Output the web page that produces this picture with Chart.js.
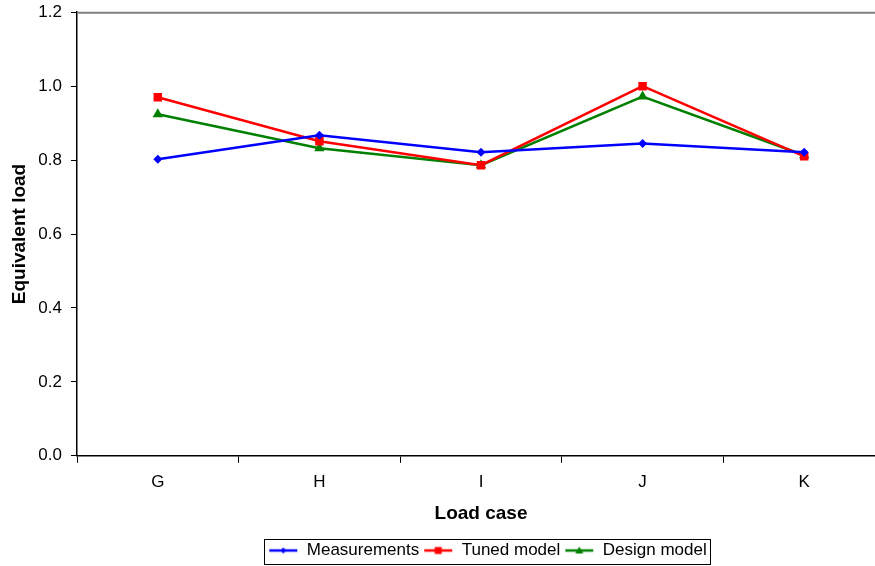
<!DOCTYPE html>
<html>
<head>
<meta charset="utf-8">
<script src="https://cdn.jsdelivr.net/npm/chart.js@4/dist/chart.umd.min.js"></script>
<style>
  html, body { margin: 0; padding: 0; background: #fff; overflow: hidden; }
  #wrap { width: 900px; height: 575px; position: relative; margin-top: -7px; }
</style>
</head>
<body>
<div id="wrap"><canvas id="loadChart"></canvas></div>
<script>
// load cases and equivalent loads per series
const loadCases = ['G', 'H', 'I', 'J', 'K'];
const measurements = [0.802, 0.867, 0.821, 0.845, 0.821];
const tunedModel = [0.970, 0.851, 0.786, 1.000, 0.810];
const designModel = [0.924, 0.832, 0.786, 0.972, 0.813];
const yTicks = [0, 0.2, 0.4, 0.6, 0.8, 1.0, 1.2];

const FONT = "'Liberation Sans', Arial, sans-serif";
const LEGEND_SHIFT_X = 45;
const LEGEND_SHIFT_Y = 1;

// small line+marker swatch for the legend
function swatch(color, style) {
    const c = document.createElement('canvas');
    c.width = 30; c.height = 12;
    const g = c.getContext('2d');
    g.strokeStyle = color; g.fillStyle = color; g.lineWidth = 2.5;
    g.beginPath(); g.moveTo(1, 6); g.lineTo(29, 6); g.stroke();
    g.beginPath();
    if (style === 'diamond') {
        g.moveTo(15, 3); g.lineTo(18, 6); g.lineTo(15, 9); g.lineTo(12, 6);
    } else if (style === 'square') {
        g.rect(11.5, 2.5, 7, 7);
    } else {
        g.moveTo(15, 2); g.lineTo(19, 9); g.lineTo(11, 9);
    }
    g.closePath(); g.fill();
    return c;
}

const series = [
    { label: 'Measurements', data: measurements, color: '#0000FF', point: 'rectRot', radius: 4.5, sw: 'diamond' },
    { label: 'Tuned model', data: tunedModel, color: '#FF0000', point: 'rect', radius: 6, sw: 'square' },
    { label: 'Design model', data: designModel, color: '#008000', point: 'triangle', radius: 6, sw: 'triangle' }
];

// gray top edge of the plot + box round the legend
const framePlugin = {
    id: 'frame',
    afterLayout(chart) {
        // legend sits under the plot, not under the whole canvas
        const lg = chart.legend;
        lg.left += LEGEND_SHIFT_X;
        lg.right += LEGEND_SHIFT_X;
        lg.top += LEGEND_SHIFT_Y;
        lg.bottom += LEGEND_SHIFT_Y;
        (lg.legendHitBoxes || []).forEach(b => { b.left += LEGEND_SHIFT_X; b.top += LEGEND_SHIFT_Y; });
    },
    afterDraw(chart) {
        const ctx = chart.ctx;
        const a = chart.chartArea;
        ctx.save();
        ctx.strokeStyle = '#808080';
        ctx.lineWidth = 2;
        ctx.beginPath();
        ctx.moveTo(a.left, a.top + 0.5);
        ctx.lineTo(a.right, a.top + 0.5);
        ctx.stroke();

        const boxes = chart.legend.legendHitBoxes;
        if (boxes && boxes.length) {
            const first = boxes[0];
            const last = boxes[boxes.length - 1];
            const x0 = first.left - 4;
            const x1 = last.left + last.width + 4;
            const y0 = first.top - 4;
            const y1 = first.top + first.height + 4;
            ctx.strokeStyle = '#000';
            ctx.lineWidth = 1;
            ctx.strokeRect(Math.round(x0) + 0.5, Math.round(y0) + 0.5, Math.round(x1 - x0), Math.round(y1 - y0));
        }
        ctx.restore();
    }
};

new Chart(document.getElementById('loadChart'), {
    type: 'line',
    data: {
        labels: loadCases,
        datasets: series.map(s => ({
            label: s.label,
            data: s.data,
            borderColor: s.color,
            backgroundColor: s.color,
            borderWidth: 2.5,
            pointStyle: s.point,
            pointRadius: s.radius,
            pointBorderWidth: 0,
            pointBackgroundColor: s.color,
            tension: 0,
            _swatch: swatch(s.color, s.sw)
        }))
    },
    options: {
        responsive: true,
        maintainAspectRatio: false,
        animation: false,
        layout: { padding: { top: 0, left: 0, right: 15, bottom: 0 } },
        plugins: {
            tooltip: { enabled: false },
            legend: {
                position: 'bottom',
                labels: {
                    usePointStyle: true,
                    pointStyleWidth: 30,
                    color: '#000',
                    font: { family: FONT, size: 17 },
                    padding: 4,
                    generateLabels(chart) {
                        return chart.data.datasets.map((ds, i) => ({
                            text: ds.label,
                            pointStyle: ds._swatch,
                            fillStyle: ds.borderColor,
                            strokeStyle: ds.borderColor,
                            lineWidth: 0,
                            hidden: false,
                            datasetIndex: i
                        }));
                    }
                }
            }
        },
        scales: {
            x: {
                offset: true,
                grid: { display: true, drawOnChartArea: false, offset: true, tickLength: 7, color: '#000', tickWidth: 1 },
                border: { color: '#000', width: 1.5 },
                ticks: { color: '#000', font: { family: FONT, size: 17 }, padding: 9 },
                title: {
                    display: true, text: 'Load case', color: '#000',
                    font: { family: FONT, size: 19, weight: 'bold' }, padding: { top: 1, bottom: 12 }
                }
            },
            y: {
                min: 0, max: 1.2,
                afterBuildTicks(scale) { scale.ticks = yTicks.map(v => ({ value: v })); },
                afterFit(scale) { scale.width = 77; },
                grid: { display: true, drawOnChartArea: false, tickLength: 6, color: '#000' },
                border: { color: '#000', width: 1.5 },
                ticks: {
                    color: '#000', font: { family: FONT, size: 17 }, padding: 9,
                    callback: v => v.toFixed(1)
                },
                title: {
                    display: true, text: 'Equivalent load', color: '#000',
                    font: { family: FONT, size: 19, weight: 'bold' }, padding: { top: 8, bottom: 2 }
                }
            }
        }
    },
    plugins: [framePlugin]
});
</script>
</body>
</html>
